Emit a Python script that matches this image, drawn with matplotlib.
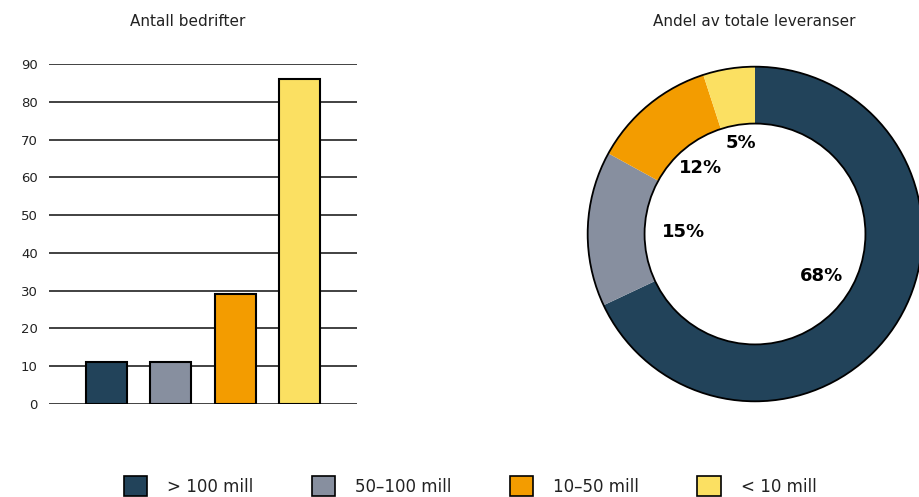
import matplotlib.pyplot as plt
from matplotlib.patches import Circle, Patch

# data
categories = ["> 100 mill", "50\u2013100 mill", "10\u201350 mill", "< 10 mill"]
antall = [11, 11, 29, 86]
andel = [68, 15, 12, 5]
yticks = [0, 10, 20, 30, 40, 50, 60, 70, 80, 90]
colors = ["#22435A", "#878F9F", "#F39C00", "#FBE062"]
label_r = [0.47, 0.43, 0.51, 0.55]  # label distance from centre, per slice

plt.rcParams['font.family'] = ['DejaVu Sans']

fig = plt.figure(figsize=(9.19, 4.97), dpi=100)
W, H = 919, 497

# bar chart
ax = fig.add_axes([49 / W, (H - 404) / H, 308 / W, 340 / H])
x = range(len(antall))
ax.bar(x, antall, width=0.64, color=colors, edgecolor="black", linewidth=1.5, zorder=3)
ax.set_ylim(0, 90)
ax.set_xlim(-0.894, 3.894)
ax.set_yticks(yticks)
ax.set_xticks([])
ax.yaxis.grid(True, color="#333333", linewidth=1.3, zorder=0)
ax.tick_params(axis="y", length=0, pad=8, labelsize=9.5, labelcolor="#222222")
for s in ax.spines.values():
    s.set_visible(False)
ax.set_axisbelow(True)
fig.text(188 / W, 1 - 22 / H, "Antall bedrifter", ha="center", va="center", fontsize=11, color="#222222")

# donut
ax2 = fig.add_axes([(755 - 169) / W, (H - 403) / H, 338 / W, 338 / H])
wedges, _, autotexts = ax2.pie(andel, colors=colors, startangle=90, counterclock=False,
                               radius=1, wedgeprops=dict(width=0.34, linewidth=0),
                               autopct=lambda p: "%d%%" % round(p), pctdistance=1.0)
for t, r in zip(autotexts, label_r):
    t.set_fontsize(13)
    t.set_fontweight("bold")
    t.set_color("black")
    xx, yy = t.get_position()
    t.set_position((xx * r, yy * r))
ax2.add_patch(Circle((0, 0), 1, fill=False, edgecolor="black", linewidth=1.3))
ax2.add_patch(Circle((0, 0), 0.66, fill=False, edgecolor="black", linewidth=1.3))
ax2.set_xlim(-1.01, 1.01)
ax2.set_ylim(-1.01, 1.01)
ax2.set_aspect("equal")
fig.text(754 / W, 1 - 22 / H, "Andel av totale leveranser", ha="center", va="center", fontsize=11, color="#222222")

# legend
handles = [Patch(facecolor=c, edgecolor="black", linewidth=1.2) for c in colors]
fig.legend(handles, categories, loc="center", bbox_to_anchor=(470 / W, 1 - 486 / H), ncol=4,
           frameon=False, fontsize=12, handlelength=1.4, handleheight=1.4, handletextpad=1.2,
           columnspacing=3.5, labelcolor="#222222")

fig.savefig("out.png", dpi=100)
